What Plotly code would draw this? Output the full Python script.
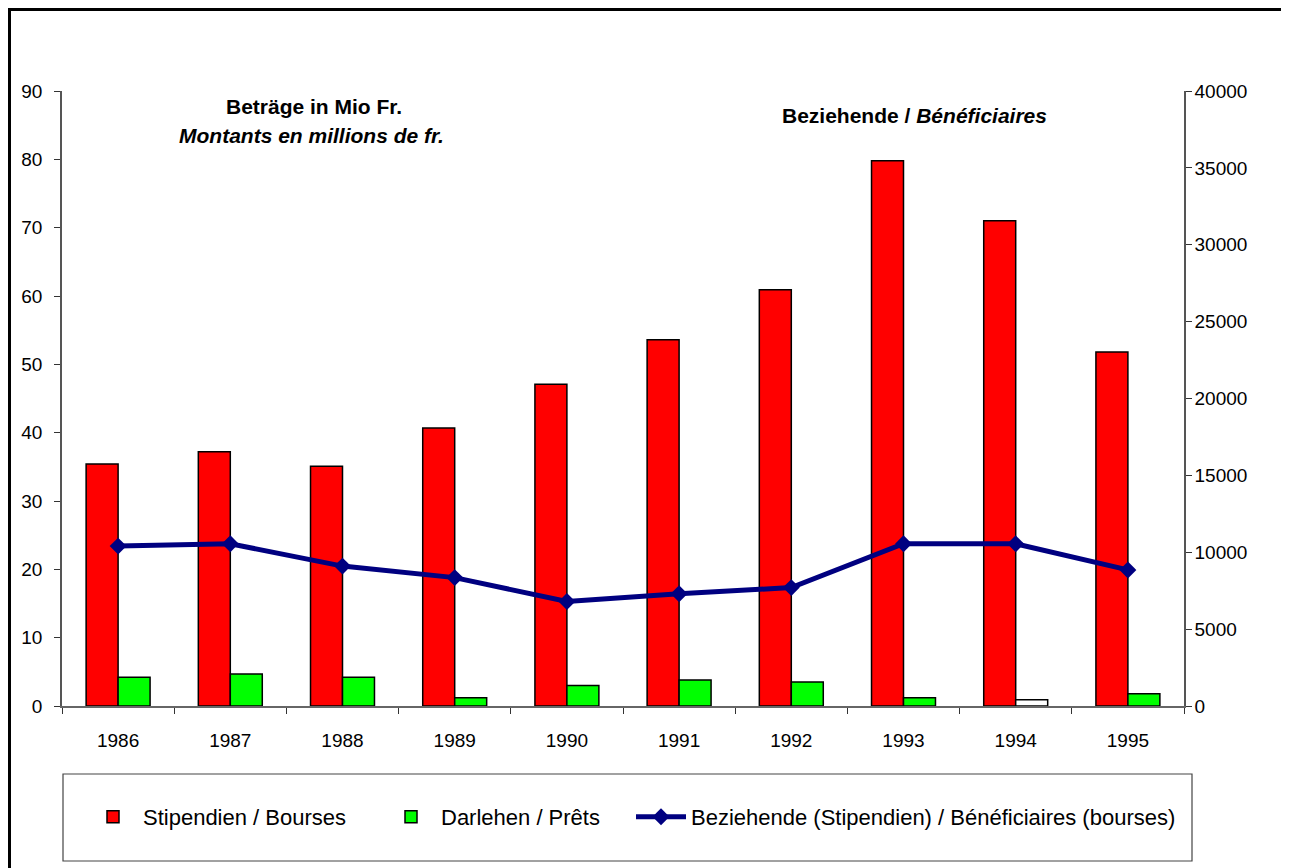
import plotly.graph_objects as go

years = ["1986", "1987", "1988", "1989", "1990", "1991", "1992", "1993", "1994", "1995"]
stipendien = [35.4, 37.2, 35.1, 40.7, 47.1, 53.6, 60.9, 79.8, 71.0, 51.8]
darlehen = [4.2, 4.7, 4.2, 1.2, 3.0, 3.8, 3.5, 1.2, 0.9, 1.8]
beziehende = [10400, 10550, 9100, 8350, 6800, 7300, 7700, 10550, 10550, 8850]

FONT = "Liberation Sans, Arial, sans-serif"

# The page body has an 8px margin; work in page pixels and convert.
OFF = 8
W, H = 1289 - OFF, 868 - OFF
L, R, T, B = 62 - OFF, 1184 - OFF, 91 - OFF, 706 - OFF
def px(x):
    return (x - OFF - L) / (R - L)
def py(y):
    return (B - (y - OFF)) / (B - T)

green_colors = ["#00FF00"] * len(years)
green_colors[8] = "#FFFFFF"

fig = go.Figure()
fig.add_trace(go.Bar(
    x=years, y=stipendien, name="Stipendien / Bourses",
    marker=dict(color="#FF0000", line=dict(color="black", width=1.5)),
    legend="legend", showlegend=True,
))
fig.add_trace(go.Bar(
    x=years, y=darlehen, name="Darlehen / Prêts",
    marker=dict(color=green_colors, line=dict(color="black", width=1.5)),
    legend="legend2", showlegend=True,
))
fig.add_trace(go.Scatter(
    x=years, y=beziehende, name="Beziehende (Stipendien) / Bénéficiaires (bourses)",
    yaxis="y2", mode="lines+markers",
    line=dict(color="#000080", width=5),
    marker=dict(symbol="diamond", size=13, color="#000080"),
    legend="legend3", showlegend=True,
))

legend_common = dict(
    orientation="h", yanchor="middle", xanchor="left",
    font=dict(family=FONT, size=22, color="black"),
    bgcolor="rgba(0,0,0,0)", itemwidth=50,
)

fig.update_layout(
    width=W, height=H, showlegend=True,
    margin=dict(l=L, r=W - R, t=T, b=H - B),
    plot_bgcolor="white", paper_bgcolor="white",
    barmode="group", bargap=0.43, bargroupgap=0,
    font=dict(family=FONT, size=18, color="black"),
    xaxis=dict(
        type="category", range=[-0.5, len(years) - 0.5],
        showline=True, linecolor="#666", linewidth=1.5,
        ticks="outside", ticklen=6, tickcolor="#333", tickson="boundaries",
        showgrid=False, tickfont=dict(size=19), ticklabelstandoff=16,
    ),
    yaxis=dict(
        range=[0, 90], dtick=10, showline=True, linecolor="#555", linewidth=1.5,
        ticks="outside", ticklen=6, tickcolor="#333", showgrid=False, zeroline=False,
        tickfont=dict(size=19), ticklabelstandoff=8,
    ),
    yaxis2=dict(
        range=[0, 40000], dtick=5000, overlaying="y", side="right",
        showline=True, linecolor="#555", linewidth=1.5,
        ticks="outside", ticklen=6, tickcolor="#333", showgrid=False, zeroline=False,
        tickformat="d", tickfont=dict(size=19), ticklabelstandoff=-1,
    ),
    legend=dict(x=px(83), y=py(817), **legend_common),
    legend2=dict(x=px(381), y=py(817), **legend_common),
    legend3=dict(x=px(631), y=py(817), **legend_common),
    shapes=[
        dict(type="rect", xref="paper", yref="paper",
             x0=px(63), x1=px(1192), y0=py(861), y1=py(774),
             line=dict(color="#444", width=1.2)),
        dict(type="rect", xref="paper", yref="paper",
             x0=px(9.5), x1=px(1286), y0=py(880), y1=py(9.5),
             line=dict(color="black", width=3)),
    ],
    annotations=[
        dict(text="<b>Beträge in Mio Fr.</b>", xref="paper", yref="paper",
             x=px(314), y=py(107), xanchor="center", yanchor="middle",
             showarrow=False, font=dict(size=21)),
        dict(text="<b><i>Montants en millions de fr.</i></b>", xref="paper", yref="paper",
             x=px(311), y=py(135), xanchor="center", yanchor="middle",
             showarrow=False, font=dict(size=21)),
        dict(text="<b>Beziehende / <i>Bénéficiaires</i></b>", xref="paper", yref="paper",
             x=px(914), y=py(115), xanchor="center", yanchor="middle",
             showarrow=False, font=dict(size=21)),
    ],
)

fig.write_html("out.html")
